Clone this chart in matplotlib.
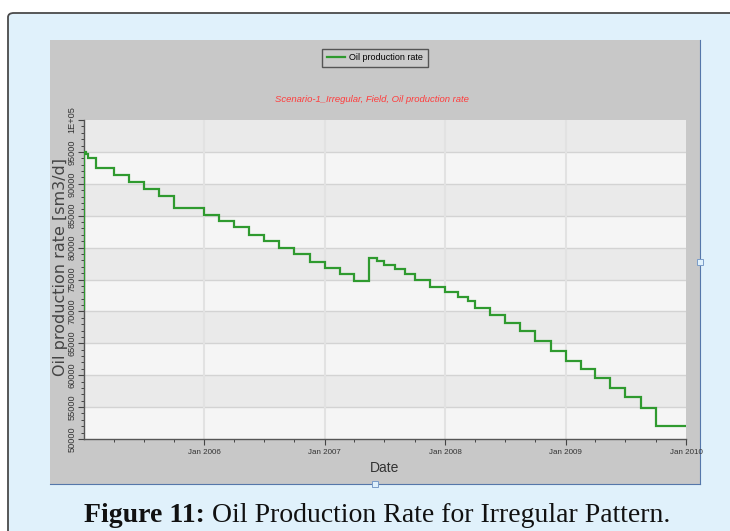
import matplotlib
matplotlib.use("Agg")
import matplotlib.pyplot as plt
import matplotlib.dates as mdates
from matplotlib.patches import FancyBboxPatch, Rectangle
from matplotlib.lines import Line2D
import numpy as np
import pandas as pd

# ---------------- data ----------------
dates = ["2005-01-01", "2005-01-02", "2005-01-08", "2005-01-14", "2005-02-07",
         "2005-04-01", "2005-05-16", "2005-07-01", "2005-08-16", "2005-10-01",
         "2006-01-01", "2006-02-15", "2006-04-01", "2006-05-16", "2006-07-01",
         "2006-08-16", "2006-10-01", "2006-11-16",
         "2007-01-01", "2007-02-15", "2007-04-01", "2007-05-16", "2007-06-10",
         "2007-07-01", "2007-08-01", "2007-09-01", "2007-10-01", "2007-11-15",
         "2008-01-01", "2008-02-10", "2008-03-10", "2008-04-01", "2008-05-16",
         "2008-07-01", "2008-08-16", "2008-10-01", "2008-11-16",
         "2009-01-01", "2009-02-15", "2009-04-01", "2009-05-16", "2009-07-01",
         "2009-08-16", "2009-10-01", "2010-01-01"]
rates = [70300, 95000, 94710, 94020, 92460, 91370, 90270, 89230, 88140, 86200,
         85160, 84120, 83180, 82050, 81030, 80010, 78950, 77820,
         76810, 75820, 74770, 78370, 77850, 77260, 76600, 75930, 74990, 73830,
         73000, 72220, 71640, 70610, 69360, 68200, 66950, 65380, 63770,
         62210, 60910, 59500, 58060, 56520, 54800, 52030, 52030]

ytick_values = [50000, 55000, 60000, 65000, 70000, 75000, 80000, 85000, 90000, 95000, 100000]
ytick_labels = ["50000", "55000", "60000", "65000", "70000", "75000", "80000",
                "85000", "90000", "95000", "1E+05"]
xtick_dates = ["2006-01-01", "2007-01-01", "2008-01-01", "2009-01-01", "2010-01-01"]
xtick_labels = ["Jan 2006", "Jan 2007", "Jan 2008", "Jan 2009", "Jan 2010"]

series_name = "Oil production rate"
title_text = "Scenario-1_Irregular, Field, Oil production rate"
ylabel_text = "Oil production rate [sm3/d]"
xlabel_text = "Date"
caption_bold = "Figure 11:"
caption_rest = " Oil Production Rate for Irregular Pattern."

# ---------------- figure ----------------
W, H = 730, 531
fig = plt.figure(figsize=(W / 100, H / 100), dpi=100)
fig.patch.set_facecolor("white")

def fx(px):
    return px / W

def fy(py):
    return 1 - py / H

narrow = ["Liberation Sans Narrow", "Liberation Sans", "DejaVu Sans"]

# outer light-blue box with dark border
outer = FancyBboxPatch((fx(8), fy(560)), fx(760) - fx(8), fy(13) - fy(560),
                       boxstyle="round,pad=0,rounding_size=0.008",
                       transform=fig.transFigure, facecolor="#e0f1fb",
                       edgecolor="#4a4a4a", linewidth=1.3, zorder=0)
fig.patches.append(outer)

# grey chart panel
panel = Rectangle((fx(50), fy(484)), fx(700) - fx(50), fy(40) - fy(484),
                  transform=fig.transFigure, facecolor="#c8c8c8",
                  edgecolor="none", zorder=1)
fig.patches.append(panel)
fig.lines.append(Line2D([fx(700), fx(700)], [fy(40), fy(484)], transform=fig.transFigure,
                        color="#5577aa", lw=0.8, zorder=2))
fig.lines.append(Line2D([fx(50), fx(700)], [fy(484), fy(484)], transform=fig.transFigure,
                        color="#5577aa", lw=0.8, zorder=2))
# small handles
for (hx, hy) in [(700, 262), (375, 484)]:
    fig.patches.append(Rectangle((fx(hx - 3), fy(hy + 3)), fx(6), 6 / H,
                                 transform=fig.transFigure, facecolor="#dff0fb",
                                 edgecolor="#7a9cc8", lw=0.7, zorder=3))

# axes
ax = fig.add_axes([fx(84), fy(439), fx(686) - fx(84), fy(120) - fy(439)])
ax.set_zorder(5)

x = pd.to_datetime(dates)
x0 = pd.Timestamp("2005-01-01")
x1 = pd.Timestamp("2010-01-01")
ax.set_xlim(x0, x1)
ax.set_ylim(50000, 100000)

# alternating bands
ax.set_facecolor("#f5f5f5")
for i in range(len(ytick_values) - 1):
    if i % 2 == 1:
        ax.axhspan(ytick_values[i], ytick_values[i + 1], color="#eaeaea", lw=0, zorder=0)
for v in ytick_values[1:-1]:
    ax.axhline(v, color="#d3d3d3", lw=1.0, zorder=1)
for d in xtick_dates[:-1]:
    ax.axvline(pd.Timestamp(d), color="#e2e2e2", lw=1.5, zorder=1)

ax.step(x, rates, where="post", color="#2f9a2f", lw=1.6, zorder=3,
        label=series_name, solid_joinstyle="miter")

# ticks
ax.set_yticks(ytick_values)
ax.set_yticklabels(ytick_labels, rotation=90, va="center", fontsize=6.6,
                   color="#333333", family=narrow)
ax.yaxis.set_minor_locator(matplotlib.ticker.MultipleLocator(1000))
ax.tick_params(axis="y", which="major", length=4, width=0.8, color="#444444", pad=1.5)
ax.tick_params(axis="y", which="minor", length=2, width=0.7, color="#444444")

ax.set_xticks(pd.to_datetime(xtick_dates))
ax.set_xticklabels(xtick_labels, fontsize=5.8, color="#333333", family=narrow)
ax.xaxis.set_minor_locator(mdates.MonthLocator(bymonth=[4, 7, 10]))
ax.tick_params(axis="x", which="major", length=4, width=0.8, color="#444444", pad=3.5)
ax.tick_params(axis="x", which="minor", length=2.5, width=0.7, color="#444444")

for s in ["top", "right"]:
    ax.spines[s].set_visible(False)
for s in ["left", "bottom"]:
    ax.spines[s].set_color("#555555")
    ax.spines[s].set_linewidth(1.0)

ax.set_ylabel(ylabel_text, fontsize=11.5, color="#444444", va="center")
ax.yaxis.set_label_coords((61 - 84) / 602, (439 - 267) / 319)
ax.set_xlabel(xlabel_text, fontsize=10, color="#333333", family=narrow, labelpad=3)

# title
fig.text(fx(372), fy(100), title_text, color="#ff3c3c", style="italic",
         fontsize=6.8, ha="center", va="center", family=narrow, zorder=6)

# legend
leg = ax.legend(loc="center", bbox_to_anchor=(fx(375), fy(58)),
                bbox_transform=fig.transFigure, frameon=True,
                fancybox=False, handlelength=2.0, handletextpad=0.5,
                borderpad=0.55, prop={"family": narrow, "size": 6.5})
leg.get_frame().set_facecolor("#cbcbcb")
leg.get_frame().set_edgecolor("#555555")
leg.get_frame().set_linewidth(1.0)
leg.get_frame().set_alpha(1)

# caption with bold prefix
serif = ["Liberation Serif", "DejaVu Serif"]
t1 = fig.text(0, fy(515), caption_bold, fontsize=20, fontweight="bold",
              family=serif, ha="left", va="center", color="#111111")
t2 = fig.text(0, fy(515), caption_rest, fontsize=20, family=serif,
              ha="left", va="center", color="#111111")
fig.canvas.draw()
r = fig.canvas.get_renderer()
w1 = t1.get_window_extent(r).width
w2 = t2.get_window_extent(r).width
total = w1 + w2
start = 377 - total / 2
t1.set_x(start / W)
t2.set_x((start + w1) / W)

fig.savefig("out.png", dpi=100, facecolor=fig.get_facecolor())
